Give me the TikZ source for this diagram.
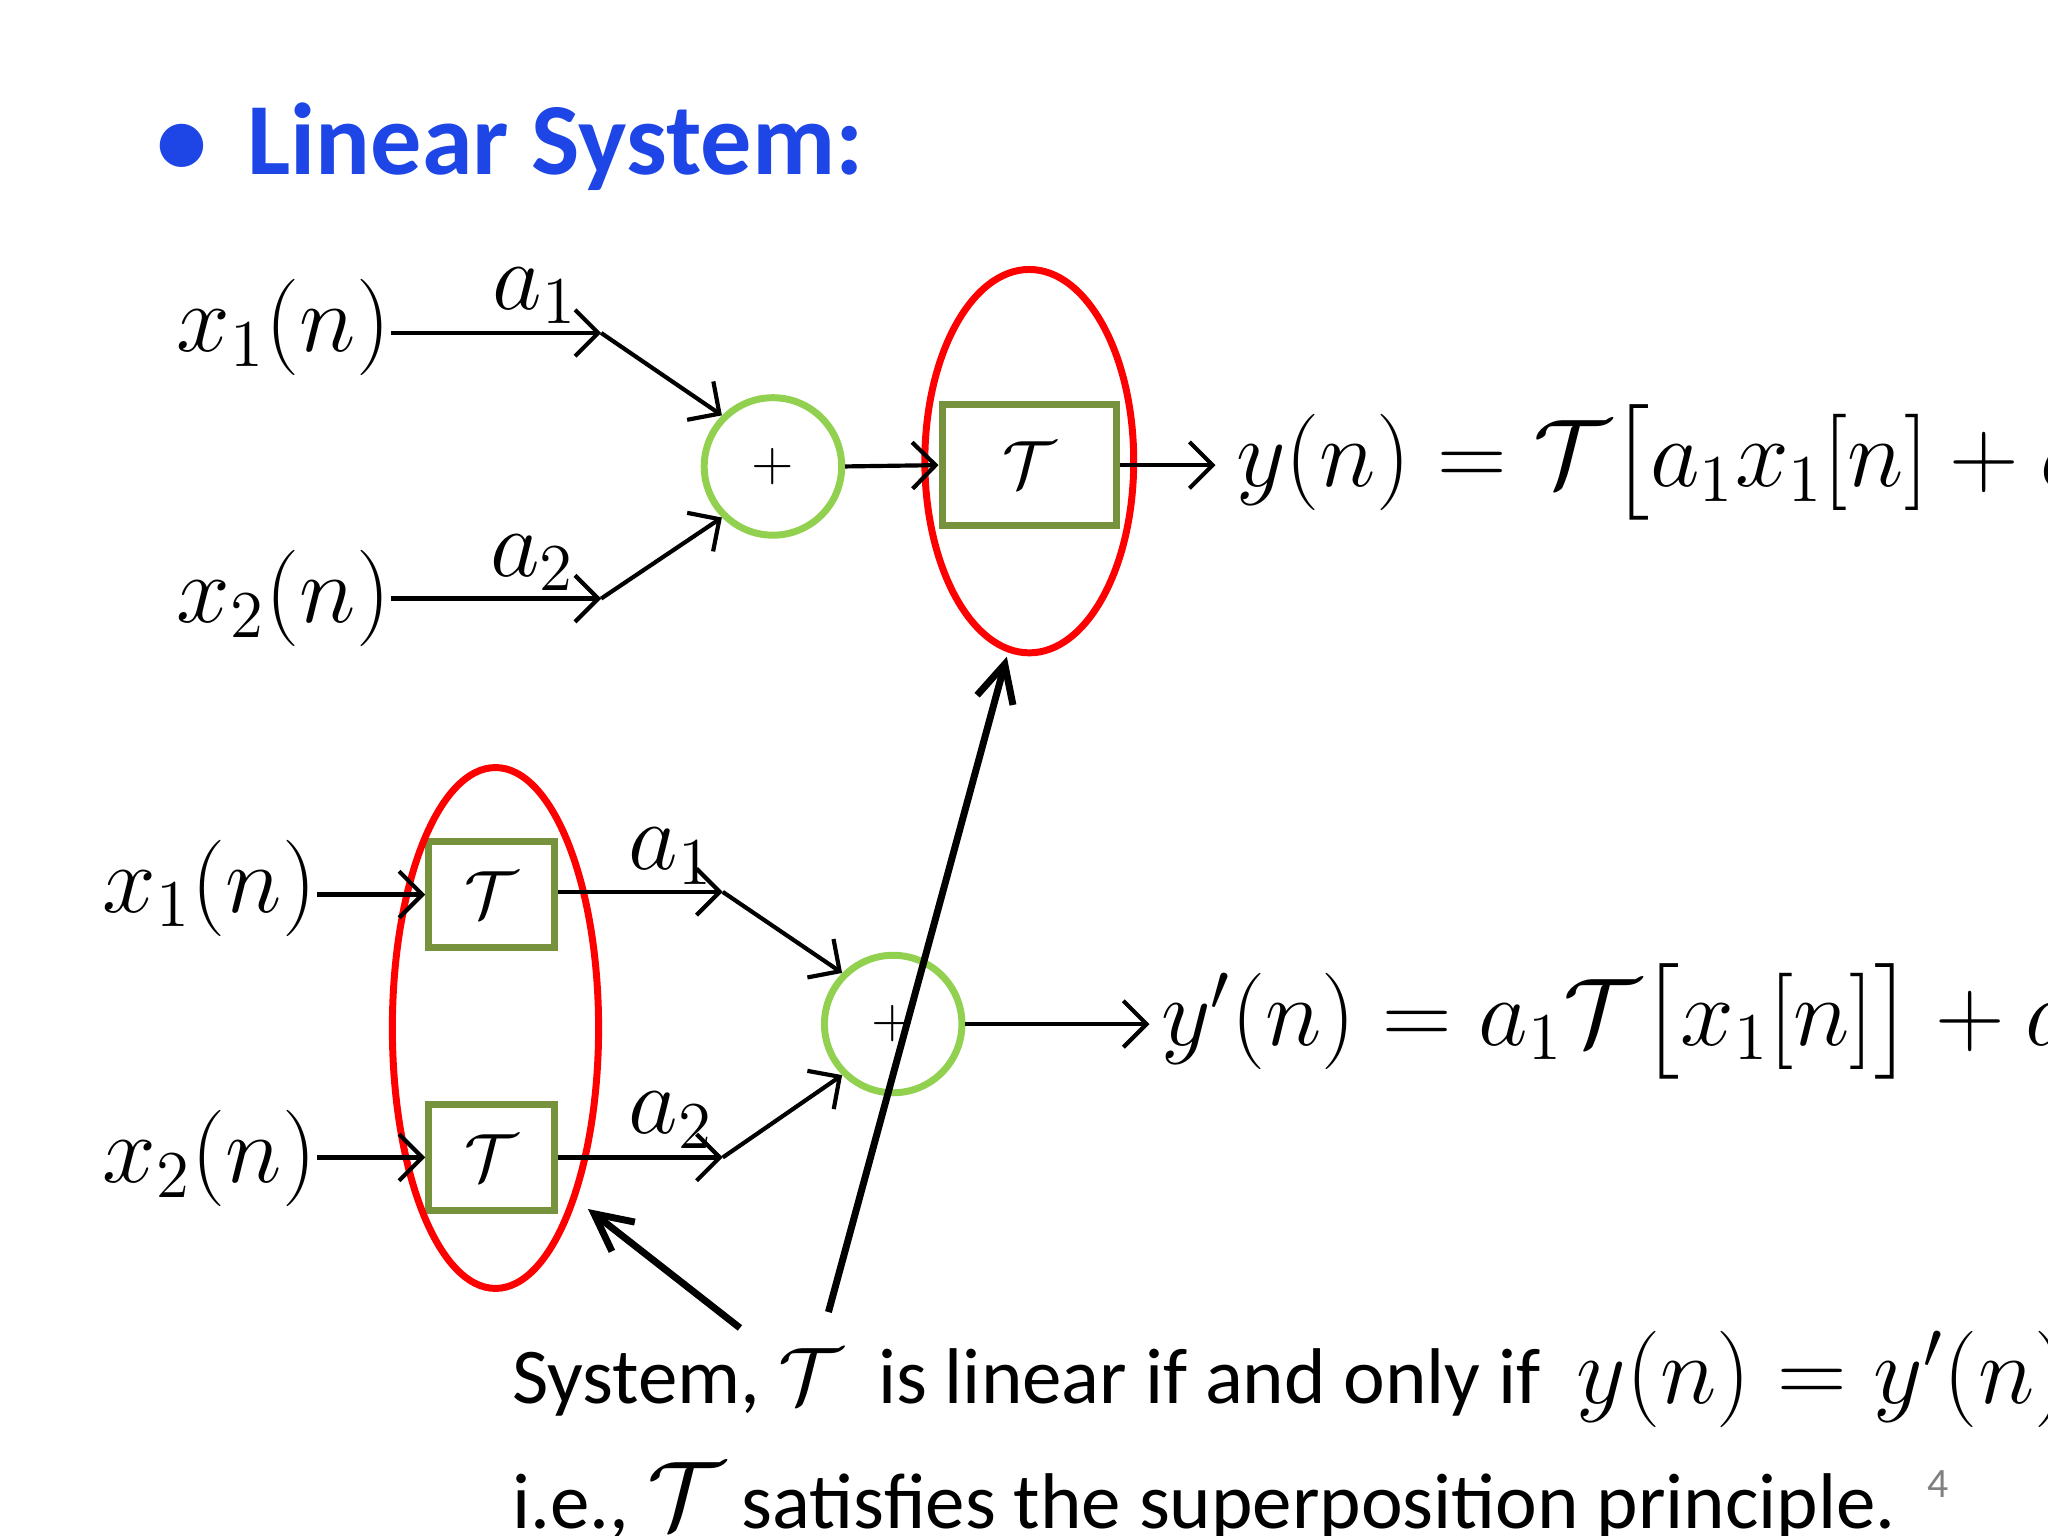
\documentclass[tikz,border=0pt]{standalone}
\usepackage{amsmath}
\usepackage{fontspec}
\setmainfont{Carlito}
\usetikzlibrary{arrows.meta,shapes.geometric}
\definecolor{gcirc}{RGB}{146,208,80}
\definecolor{gbox}{RGB}{118,146,60}
\definecolor{blu}{RGB}{30,70,230}
\newcommand{\TT}{\mathcal{T}}
\begin{document}
\begin{tikzpicture}[x=0.01cm,y=-0.01cm,
 sum/.style={circle,draw=gcirc,line width=1.5pt,inner sep=0pt},
 tbox/.style={draw=gbox,line width=1.5pt,inner sep=0pt},
 red/.style={draw=red,line width=1.5pt},
 ar/.style={-{Straight Barb[length=5pt]},line width=0.9pt},
 big/.style={-{Straight Barb[length=8pt,width=8pt]},line width=1.5pt},
 lab/.style={font=\fontsize{20}{24}\selectfont,inner sep=0pt},
 txt/.style={font=\fontsize{17}{20}\selectfont,inner sep=0pt,anchor=base west}]
\useasboundingbox (0,0) rectangle (1550,1162);
\node[anchor=base west,inner sep=0pt,text=blu,font=\fontsize{22}{26}\selectfont\bfseries] (title) at (118,132) {\textbullet\hspace{0.3cm}Linear System:};
% top
\node[lab,anchor=east] (x1) at (296,248) {$x_1(n)$};
\node[lab,anchor=east] (x2) at (296,453) {$x_2(n)$};
\coordinate (k1) at (455,252); \coordinate (k2) at (455,453);
\node[sum,minimum size=1.04cm] (s1) at (585,353) {\large$+$};
\node[tbox,minimum width=1.32cm,minimum height=0.92cm] (t1) at (779,352) {\Large$\TT$};
\node[red,ellipse,minimum width=1.58cm,minimum height=2.9cm] (e1) at (779,349) {};
\draw[ar] (x1.east|-k1) -- (k1); \draw[ar] (k1) -- (s1.135);
\draw[ar] (x2.east|-k2) -- (k2); \draw[ar] (k2) -- (s1.225);
\node[lab] (a1) at (405,224) {$a_1$};
\node[lab] (a2) at (403,426) {$a_2$};
\draw[ar] (s1.east) -- (t1.west);
\coordinate (o1) at (920,352);
\draw[ar] (t1.east) -- (o1);
\node[lab,anchor=west] (y1) at (935,350) {$y(n)=\TT\bigl[a_1x_1[n]+a_2x_2[n]\bigr]$};
% bottom
\node[lab,anchor=east] (bx1) at (240,672) {$x_1(n)$};
\node[lab,anchor=east] (bx2) at (240,877) {$x_2(n)$};
\node[tbox,minimum width=0.95cm,minimum height=0.8cm] (t2) at (372,677) {\Large$\TT$};
\node[tbox,minimum width=0.95cm,minimum height=0.8cm] (t3) at (372,876) {\Large$\TT$};
\node[red,ellipse,minimum width=1.56cm,minimum height=3.94cm] (e2) at (375,778) {};
\node[sum,minimum size=1.04cm] (s2) at (676,775) {\large$+$};
\draw[ar] (bx1.east|-t2) -- (t2.west);
\draw[ar] (bx2.east|-t3) -- (t3.west);
\coordinate (k3) at (547,675); \coordinate (k4) at (547,876);
\draw[ar] (t2.east|-k3) -- (k3); \draw[ar] (k3) -- (s2.135);
\draw[ar] (t3.east|-k4) -- (k4); \draw[ar] (k4) -- (s2.225);
\node[lab] (a3) at (508,648) {$a_1$};
\node[lab] (a4) at (508,848) {$a_2$};
\coordinate (o2) at (870,775);
\draw[ar] (s2.east) -- (o2);
\node[lab,anchor=west] (y2) at (878,773) {$y'(n)=a_1\TT\bigl[x_1[n]\bigr]+a_2\TT\bigl[x_2[n]\bigr]$};
% pointers
\coordinate (p1) at (627,993); \coordinate (p2) at (560,1005); \coordinate (q1) at (762,497); \coordinate (q2) at (445,915);
\draw[big] (p1) -- (q1);
\draw[big] (p2) -- (q2);
\node[txt] (l1) at (387,1062) {System, $\TT$\ \ is linear if and only if \ {\fontsize{20}{24}\selectfont$y(n)=y'(n)$}};
\node[txt] (l2) at (387,1157) {i.e., {\fontsize{22}{24}\selectfont$\TT$} satisfies the superposition principle.};
\node[inner sep=0pt,text=gray,font=\small] (pg) at (1467,1123) {4};
\end{tikzpicture}
\end{document}
